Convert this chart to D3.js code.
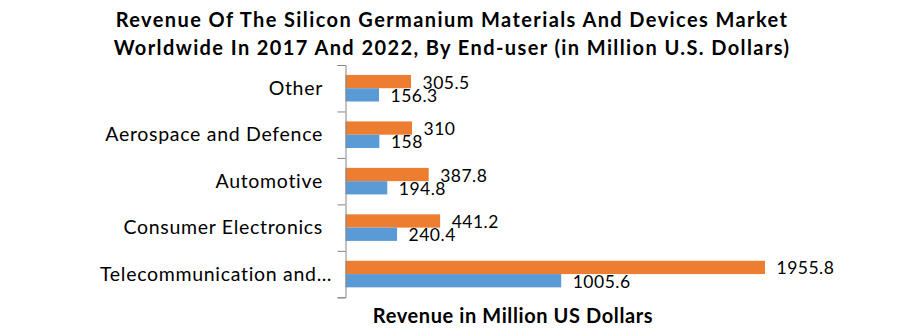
<!DOCTYPE html>
<html><head><meta charset="utf-8">
<script src="https://cdn.jsdelivr.net/npm/d3@7/dist/d3.min.js"></script>
<style>body{margin:0;background:#fff}svg{display:block}</style>
</head><body><svg id="c" width="901" height="333"></svg>
<script>
const categories = ["Other", "Aerospace and Defence", "Automotive", "Consumer Electronics", "Telecommunication and…"];
const values2017 = [156.3, 158, 194.8, 240.4, 1005.6];
const values2022 = [305.5, 310, 387.8, 441.2, 1955.8];
const seriesNames = ["2022", "2017"];
const titleLines = ["Revenue Of The Silicon Germanium Materials And Devices Market", "Worldwide In 2017 And 2022, By End-user (in Million U.S. Dollars)"];
const axisTitle = "Revenue in Million US Dollars";

const svg = d3.select("#c");
const FONT = "Lato, 'Noto Sans', sans-serif";
const colors = {"2022": "#ED7D31", "2017": "#5B9BD5"};
const seriesValues = {"2022": values2022, "2017": values2017};

const y = d3.scaleBand().domain(categories).range([65, 297.3]).paddingInner(0.428).paddingOuter(0.214);
const ys = d3.scaleBand().domain(seriesNames).range([0, y.bandwidth()]);
const x = d3.scaleLinear().domain([0, 2000]).range([345.5, 774.5]);

// title
const tt = svg.append("text").attr("text-anchor", "middle").attr("font-family", FONT)
  .attr("font-weight", "bold").attr("font-size", 20).attr("letter-spacing", 1.4).attr("fill", "#000");
titleLines.forEach((l, i) => tt.append("tspan").attr("x", 452).attr("y", 26.7 + i * 28.3).text(l));

// bars
const g = svg.append("g");
seriesNames.forEach(s => {
  const data = categories.map((c, i) => ({c, v: seriesValues[s][i]}));
  g.selectAll(null).data(data).enter().append("rect")
    .attr("x", x(0)).attr("y", d => y(d.c) + ys(s))
    .attr("width", d => x(d.v) - x(0)).attr("height", ys.bandwidth())
    .attr("fill", colors[s]);
  g.selectAll(null).data(data).enter().append("text")
    .attr("x", d => x(d.v) + 11.5).attr("y", d => y(d.c) + ys(s) + ys.bandwidth() / 2 + 7)
    .attr("font-family", FONT).attr("font-size", 17.5).attr("letter-spacing", 0.5).attr("fill", "#000")
    .text(d => d.v);
});

// y axis
const yAxis = d3.axisLeft(d3.scalePoint().domain(d3.range(categories.length + 1)).range([65, 297.3]))
  .tickSize(8).tickFormat("");
const ax = svg.append("g").attr("transform", `translate(${x(0)},0)`).call(yAxis);
ax.select(".domain").attr("stroke", "#868686");
ax.selectAll(".tick line").attr("stroke", "#868686");

svg.append("g").selectAll("text").data(categories).enter().append("text")
  .attr("x", d => d.endsWith("…") ? 100 : 323)
  .attr("text-anchor", d => d.endsWith("…") ? "start" : "end")
  .attr("y", d => y(d) + y.bandwidth() / 2 + 6.7)
  .attr("font-family", FONT).attr("font-size", 19.5).attr("letter-spacing", 0.7).attr("fill", "#000")
  .text(d => d);

svg.append("text").attr("x", 513).attr("y", 323.3).attr("text-anchor", "middle")
  .attr("font-family", FONT).attr("font-weight", "bold").attr("font-size", 20).attr("letter-spacing", 0.6).text(axisTitle);
</script></body></html>
